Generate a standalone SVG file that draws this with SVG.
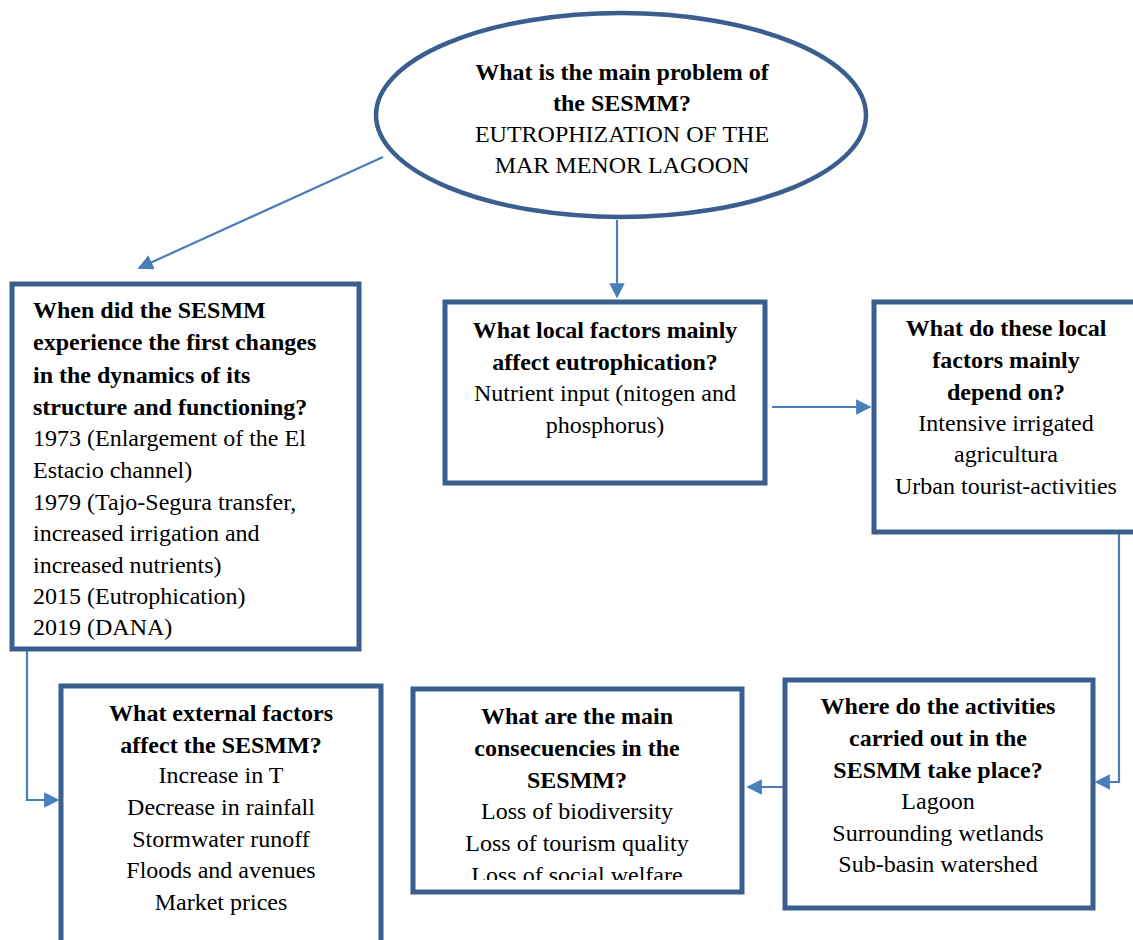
<svg xmlns="http://www.w3.org/2000/svg" width="1133" height="940" viewBox="0 0 1133 940">
<style>
.box{fill:#fff;stroke:#3A5F8E;stroke-width:5}
.el{fill:#fff;stroke:#3A5F8E;stroke-width:4.5}
.c{fill:none;stroke:#4A7EBB;stroke-width:2.2}
text{font-family:"Liberation Serif","Times New Roman",serif;font-size:24px;fill:#000}
.b{font-weight:bold}
.m{text-anchor:middle}
</style>
<defs>
<marker id="ah" viewBox="0 0 10 10" refX="9" refY="5" markerWidth="7" markerHeight="7" markerUnits="strokeWidth" orient="auto">
<path d="M0,0 L10,5 L0,10 z" fill="#4A7EBB"/>
</marker>
<clipPath id="clip5"><rect x="412" y="688" width="331" height="192"/></clipPath>
</defs>
<g id="connectors">
<line class="c" x1="383" y1="157" x2="139" y2="268" marker-end="url(#ah)"/>
<line class="c" x1="617" y1="220" x2="617" y2="297" marker-end="url(#ah)"/>
<line class="c" x1="772" y1="407" x2="870" y2="407" marker-end="url(#ah)"/>
<polyline class="c" points="1113,533 1119,533 1119,782 1096,782" marker-end="url(#ah)"/>
<line class="c" x1="784" y1="787" x2="748" y2="787" marker-end="url(#ah)"/>
<polyline class="c" points="27,650 27,800 58,800" marker-end="url(#ah)"/>
</g>
<g id="node-main">
<ellipse class="el" cx="621" cy="115" rx="245" ry="102"/>
<text class="b m" x="622" y="80">What is the main problem of</text>
<text class="b m" x="622" y="111">the SESMM?</text>
<text class="m" x="622" y="142">EUTROPHIZATION OF THE</text>
<text class="m" x="622" y="173">MAR MENOR LAGOON</text>
</g>
<g id="node-when">
<rect class="box" x="12" y="284" width="347" height="365"/>
<text class="b" x="33" y="318">When did the SESMM</text>
<text class="b" x="33" y="350">experience the first changes</text>
<text class="b" x="33" y="383">in the dynamics of its</text>
<text class="b" x="33" y="415">structure and functioning?</text>
<text x="33" y="446">1973 (Enlargement of the El</text>
<text x="33" y="478">Estacio channel)</text>
<text x="33" y="510">1979 (Tajo-Segura transfer,</text>
<text x="33" y="541">increased irrigation and</text>
<text x="33" y="573">increased nutrients)</text>
<text x="33" y="604">2015 (Eutrophication)</text>
<text x="33" y="635">2019 (DANA)</text>
</g>
<g id="node-local">
<rect class="box" x="445" y="302" width="320" height="181"/>
<text class="b m" x="605" y="338">What local factors mainly</text>
<text class="b m" x="605" y="370">affect eutrophication?</text>
<text class="m" x="605" y="401">Nutrient input (nitogen and</text>
<text class="m" x="605" y="433">phosphorus)</text>
</g>
<g id="node-depend">
<rect class="box" x="874" y="302" width="265" height="230"/>
<text class="b m" x="1006" y="336">What do these local</text>
<text class="b m" x="1006" y="368">factors mainly</text>
<text class="b m" x="1006" y="400">depend on?</text>
<text class="m" x="1006" y="431">Intensive irrigated</text>
<text class="m" x="1006" y="462">agricultura</text>
<text class="m" x="1006" y="494">Urban tourist-activities</text>
</g>
<g id="node-where">
<rect class="box" x="785" y="680" width="308" height="228"/>
<text class="b m" x="938" y="714">Where do the activities</text>
<text class="b m" x="938" y="746">carried out in the</text>
<text class="b m" x="938" y="778">SESMM take place?</text>
<text class="m" x="938" y="809">Lagoon</text>
<text class="m" x="938" y="841">Surrounding wetlands</text>
<text class="m" x="938" y="872">Sub-basin watershed</text>
</g>
<g id="node-consequences">
<rect class="box" x="413" y="689" width="329" height="203"/>
<g clip-path="url(#clip5)">
<text class="b m" x="577" y="724">What are the main</text>
<text class="b m" x="577" y="756">consecuencies in the</text>
<text class="b m" x="577" y="788">SESMM?</text>
<text class="m" x="577" y="819">Loss of biodiversity</text>
<text class="m" x="577" y="851">Loss of tourism quality</text>
<text class="m" x="577" y="883">Loss of social welfare</text>
</g>
</g>
<g id="node-external">
<rect class="box" x="61" y="686" width="320" height="270"/>
<text class="b m" x="221" y="721">What external factors</text>
<text class="b m" x="221" y="753">affect the SESMM?</text>
<text class="m" x="221" y="783">Increase in T</text>
<text class="m" x="221" y="815">Decrease in rainfall</text>
<text class="m" x="221" y="847">Stormwater runoff</text>
<text class="m" x="221" y="878">Floods and avenues</text>
<text class="m" x="221" y="910">Market prices</text>
</g>
</svg>
